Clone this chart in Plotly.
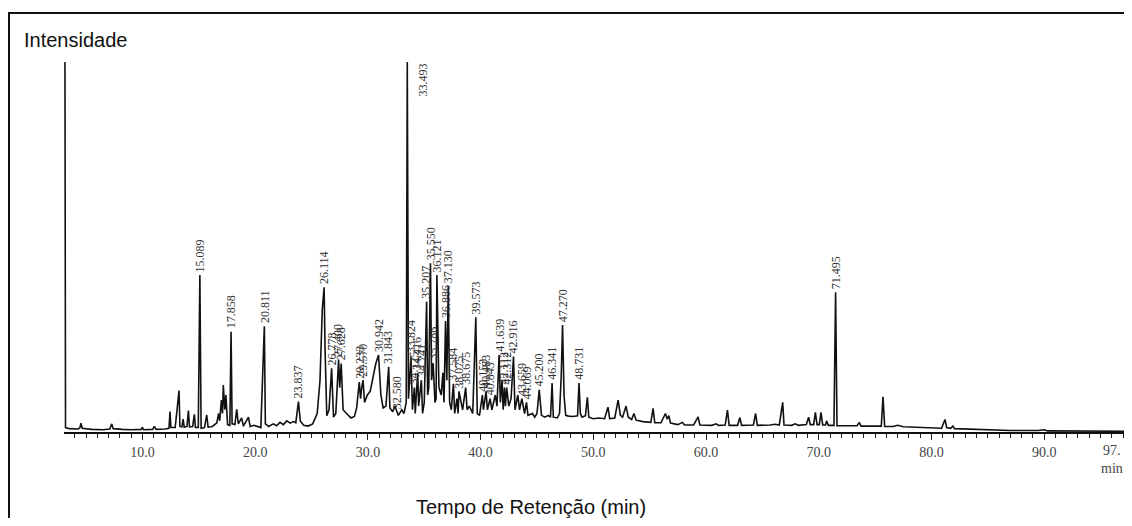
import plotly.graph_objects as go

# chromatogram trace (retention time in min, relative intensity %)
rt = [3.12, 3.17, 3.5, 4.3, 4.45, 4.54, 4.65, 5.5, 6.5, 7.1, 7.27, 7.4, 8.2, 9.0, 9.9, 9.98, 10.1, 10.9, 11.05, 11.2,
      12.0, 12.35, 12.44, 12.52, 12.9, 13.24, 13.32, 13.5, 13.6, 13.7, 13.95, 14.07, 14.17, 14.45, 14.6, 14.7, 14.95,
      15.089, 15.2, 15.5, 15.7, 15.82, 16.2, 16.6, 16.75, 16.85, 17.0, 17.1, 17.17, 17.3, 17.4, 17.55, 17.75, 17.858,
      17.95, 18.2, 18.36, 18.5, 18.8, 18.95, 19.4, 19.55, 19.9, 20.2, 20.5, 20.811, 20.9, 21.2, 21.6, 21.9, 22.2, 22.5,
      22.8, 23.1, 23.4, 23.6, 23.837, 24.0, 24.3, 24.7, 25.1, 25.5, 25.75, 25.95, 26.114, 26.2, 26.35, 26.55, 26.778,
      26.95, 27.15, 27.4, 27.5, 27.628, 27.8, 28.1, 28.5, 28.8, 29.0, 29.233, 29.35, 29.45, 29.57, 29.7, 29.95, 30.2,
      30.5, 30.7, 30.942, 31.15, 31.35, 31.6, 31.843, 31.95, 32.2, 32.4, 32.58, 32.7, 33.0, 33.2, 33.4, 33.493, 33.6,
      33.824, 33.95, 34.125, 34.2, 34.416, 34.5, 34.741, 34.85, 35.0, 35.207, 35.3, 35.4, 35.55, 35.65, 35.786, 35.95,
      36.05, 36.121, 36.3, 36.5, 36.65, 36.75, 36.886, 37.0, 37.13, 37.25, 37.4, 37.584, 37.7, 37.9, 38.0, 38.075,
      38.4, 38.675, 38.8, 39.0, 39.3, 39.573, 39.7, 39.9, 40.153, 40.25, 40.483, 40.6, 40.843, 41.0, 41.3, 41.45,
      41.639, 41.75, 41.9, 42.0, 42.112, 42.2, 42.312, 42.5, 42.7, 42.916, 43.05, 43.3, 43.45, 43.659, 43.9, 44.069,
      44.2, 44.6, 44.8, 45.0, 45.2, 45.4, 45.7, 46.0, 46.2, 46.341, 46.45, 46.8, 47.0, 47.15, 47.27, 47.4, 47.55,
      47.8, 48.2, 48.6, 48.731, 48.85, 49.0, 49.3, 49.47, 49.6, 50.0, 50.5, 51.0, 51.3, 51.45, 51.9, 52.2, 52.4, 52.6,
      52.9, 53.1, 53.4, 53.6, 53.8, 54.4, 55.1, 55.3, 55.45, 56.0, 56.4, 56.55, 56.7, 56.85, 57.5, 57.9, 58.1, 58.9,
      59.3, 59.45, 60.5, 60.9, 61.1, 61.7, 61.9, 62.05, 62.8, 63.0, 63.15, 64.2, 64.4, 64.55, 65.7, 66.1, 66.5, 66.8,
      66.92, 67.6, 67.9, 68.2, 68.9, 69.1, 69.25, 69.55, 69.7, 69.85, 70.05, 70.2, 70.35, 70.6, 70.7, 70.85, 71.35,
      71.495, 71.62, 72.5, 73.4, 73.6, 73.75, 74.8, 75.55, 75.7, 75.85, 76.6, 77.0, 77.5, 78.2, 79.0, 79.9, 80.2,
      80.9, 81.2, 81.35, 81.7, 81.9, 82.05, 83.0, 84.0, 85.0, 87.0, 89.5, 90.0, 90.3, 93.0, 97.4]
intensity = [100, 1.2, 0.9, 0.8, 1.2, 2.4, 1.0, 0.7, 0.6, 0.8, 2.2, 0.9, 0.7, 0.6, 0.7, 1.3, 0.6, 0.7, 1.5, 0.7,
             0.8, 1.0, 5.5, 1.2, 1.2, 11.2, 1.5, 1.4, 3.5, 1.3, 1.5, 5.8, 1.4, 1.5, 4.8, 1.2, 1.2,
             42.4, 1.0, 1.2, 4.6, 1.3, 1.5, 2.5, 5.0, 3.0, 8.6, 5.0, 12.7, 6.0, 10.0, 2.0, 1.8, 27.1,
             2.2, 2.0, 6.1, 2.2, 3.8, 1.6, 4.0, 1.5, 1.8, 1.5, 1.2, 28.6, 2.2, 1.5, 2.2, 1.7, 2.6, 2.0,
             3.0, 2.4, 2.8, 2.5, 8.2, 3.0, 1.8, 1.6, 2.2, 5.0, 14.0, 33.0, 39.1, 22.0, 4.4, 6.0, 17.2,
             4.0, 5.0, 19.5, 12.0, 18.5, 6.0, 5.0, 3.8, 4.2, 6.5, 13.5, 9.0, 12.0, 14.0, 8.0, 10.0, 11.0,
             15.0, 18.5, 20.8, 10.0, 6.5, 7.0, 17.6, 6.5, 5.5, 7.0, 5.5, 4.5, 6.0, 5.0, 8.0, 100, 9.0,
             20.4, 6.0, 12.0, 5.0, 16.0, 7.0, 14.0, 5.0, 8.0, 35.2, 10.0, 12.0, 45.6, 14.0, 18.6, 8.0,
             9.0, 42.4, 12.0, 10.0, 16.0, 8.0, 30.0, 14.0, 39.3, 8.0, 6.0, 13.0, 5.0, 9.0, 5.0, 11.0,
             6.0, 12.0, 6.0, 7.0, 5.0, 31.0, 5.0, 4.5, 10.0, 6.0, 11.0, 6.0, 9.0, 6.0, 10.0, 7.0,
             20.8, 8.0, 14.0, 6.0, 12.0, 7.0, 12.0, 7.0, 9.0, 20.4, 6.0, 10.0, 6.0, 9.0, 5.0, 8.0,
             4.5, 5.0, 4.0, 5.0, 11.4, 4.5, 4.0, 4.5, 4.0, 13.2, 4.0, 3.8, 5.0, 15.0, 28.9, 10.0, 4.5,
             4.3, 4.2, 4.4, 13.2, 5.0, 4.0, 4.4, 9.4, 4.0, 3.6, 3.8, 3.6, 6.7, 3.6, 3.8, 8.6, 4.5, 4.0,
             7.0, 4.0, 3.4, 5.0, 3.2, 2.8, 2.6, 6.4, 2.5, 2.5, 5.0, 3.5, 4.4, 2.4, 2.0, 2.6, 1.9, 1.9,
             4.1, 1.9, 1.8, 2.2, 1.8, 1.9, 5.9, 1.8, 1.8, 3.9, 1.8, 1.9, 5.0, 1.8, 1.9, 2.1, 1.9, 8.0,
             1.9, 1.8, 2.2, 1.8, 2.0, 4.0, 2.0, 2.0, 5.3, 2.0, 2.0, 5.3, 1.9, 1.9, 3.0, 1.8, 1.8,
             37.8, 1.7, 1.7, 1.7, 2.6, 1.6, 1.6, 1.6, 9.5, 1.5, 1.5, 1.8, 1.4, 1.3, 1.2, 1.2, 1.0,
             1.0, 3.4, 1.2, 1.0, 1.6, 0.9, 0.8, 0.6, 0.5, 0.4, 0.4, 0.6, 0.3, 0.3, 0.2]

# peak labels: text, retention time, height of the label base
peak_text = ["15.089", "17.858", "20.811", "23.837", "26.114", "26.778", "27.400", "27.628", "29.233", "29.570",
             "30.942", "31.843", "32.580", "33.824", "34.125", "34.416", "34.741", "35.207", "35.550", "35.786",
             "36.121", "36.886", "37.130", "37.584", "38.075", "38.675", "39.573", "40.153", "40.483", "40.843",
             "41.639", "42.112", "42.312", "42.916", "43.659", "44.069", "45.200", "46.341", "47.270", "48.731",
             "71.495"]
peak_rt = [15.089, 17.858, 20.811, 23.837, 26.114, 26.778, 27.400, 27.628, 29.233, 29.570,
           30.942, 31.843, 32.580, 33.824, 34.125, 34.416, 34.741, 35.207, 35.550, 35.786,
           36.121, 36.886, 37.130, 37.584, 38.075, 38.675, 39.573, 40.153, 40.483, 40.843,
           41.639, 42.112, 42.312, 42.916, 43.659, 44.069, 45.200, 46.341, 47.270, 48.731,
           71.495]
peak_h = [42.4, 27.1, 28.6, 8.2, 39.1, 17.2, 19.5, 18.5, 13.5, 14.0,
          20.8, 17.6, 5.5, 20.4, 12.0, 16.0, 14.0, 35.2, 45.6, 18.6,
          42.4, 30.0, 39.3, 13.0, 11.0, 12.0, 31.0, 10.0, 11.0, 9.0,
          20.8, 12.0, 12.0, 20.4, 9.0, 8.0, 11.4, 13.2, 28.9, 13.2,
          37.8]
top_label = "33.493"
top_label_rt = 34.8

tick_vals = [10, 20, 30, 40, 50, 60, 70, 80, 90]
tick_text = ["10.0", "20.0", "30.0", "40.0", "50.0", "60.0", "70.0", "80.0", "90.0"]
minor_vals = list(range(4, 98))
end_label = "97."
end_label_rt = 96.0

# page body has an 8px margin: the figure starts at (8, 8) of the window
OFF = 8
W, H = 1132 - OFF, 526 - 2 * OFF
ML, MR, MT = 64 - OFF, 5, 62 - OFF
PH = 370
MB = H - MT - PH
PW = W - ML - MR


def px2paper_x(px):  # window pixel -> paper
    return (px - OFF - ML) / PW


def px2paper_y(py):
    return (H - MB - (py - OFF)) / PH


fig = go.Figure()
fig.add_trace(go.Scatter(x=rt, y=intensity, mode="lines",
                         line=dict(color="#111111", width=1.6), hoverinfo="skip", showlegend=False))

serif = "Liberation Serif, Times New Roman, serif"
sans = "Liberation Sans, Arial, sans-serif"
ann = []
for t, x, h in zip(peak_text, peak_rt, peak_h):
    ann.append(dict(x=x, y=h, xref="x", yref="y", text=t, showarrow=False, textangle=-90,
                    xanchor="center", yanchor="bottom", yshift=1,
                    font=dict(family=serif, size=12, color="#333333")))
ann.append(dict(x=top_label_rt, y=100, xref="x", yref="y", text=top_label, showarrow=False, textangle=-90,
                xanchor="center", yanchor="top", font=dict(family=serif, size=12, color="#333333")))
ann.append(dict(x=end_label_rt, y=0, xref="x", yref="y", text=end_label, showarrow=False, xanchor="center",
                yanchor="top", yshift=-9, font=dict(family=serif, size=14, color="#444444")))
ann.append(dict(x=end_label_rt, y=0, xref="x", yref="y", text="min", showarrow=False, xanchor="center",
                yanchor="top", yshift=-27, font=dict(family=serif, size=14, color="#444444")))
ann.append(dict(x=px2paper_x(22), y=px2paper_y(40), xref="paper", yref="paper", text="Intensidade",
                showarrow=False, xanchor="left", yanchor="middle",
                font=dict(family=sans, size=20, color="#111111")))
ann.append(dict(x=px2paper_x(531), y=px2paper_y(507), xref="paper", yref="paper",
                text="Tempo de Retenção (min)", showarrow=False, xanchor="center", yanchor="middle",
                font=dict(family=sans, size=20, color="#111111")))

fig.update_layout(
    width=W, height=H, margin=dict(l=ML, r=MR, t=MT, b=MB, autoexpand=False),
    paper_bgcolor="white", plot_bgcolor="white",
    xaxis=dict(range=[3.035, 97.35], showgrid=False, zeroline=False, showline=True,
               linecolor="#111111", linewidth=2, ticks="outside", ticklen=6, tickwidth=1.2,
               tickcolor="#222222", tickvals=tick_vals, ticktext=tick_text,
               tickfont=dict(family=serif, size=14, color="#444444"),
               minor=dict(tickvals=minor_vals, ticks="outside", ticklen=4, tickcolor="#222222", tickwidth=1)),
    yaxis=dict(range=[0, 100], visible=False),
    annotations=ann,
    shapes=[dict(type="rect", xref="paper", yref="paper",
                 x0=px2paper_x(9), x1=px2paper_x(1145), y0=px2paper_y(545), y1=px2paper_y(13),
                 line=dict(color="#111111", width=2), fillcolor="rgba(0,0,0,0)", layer="above")],
)

fig.write_html("out.html")
